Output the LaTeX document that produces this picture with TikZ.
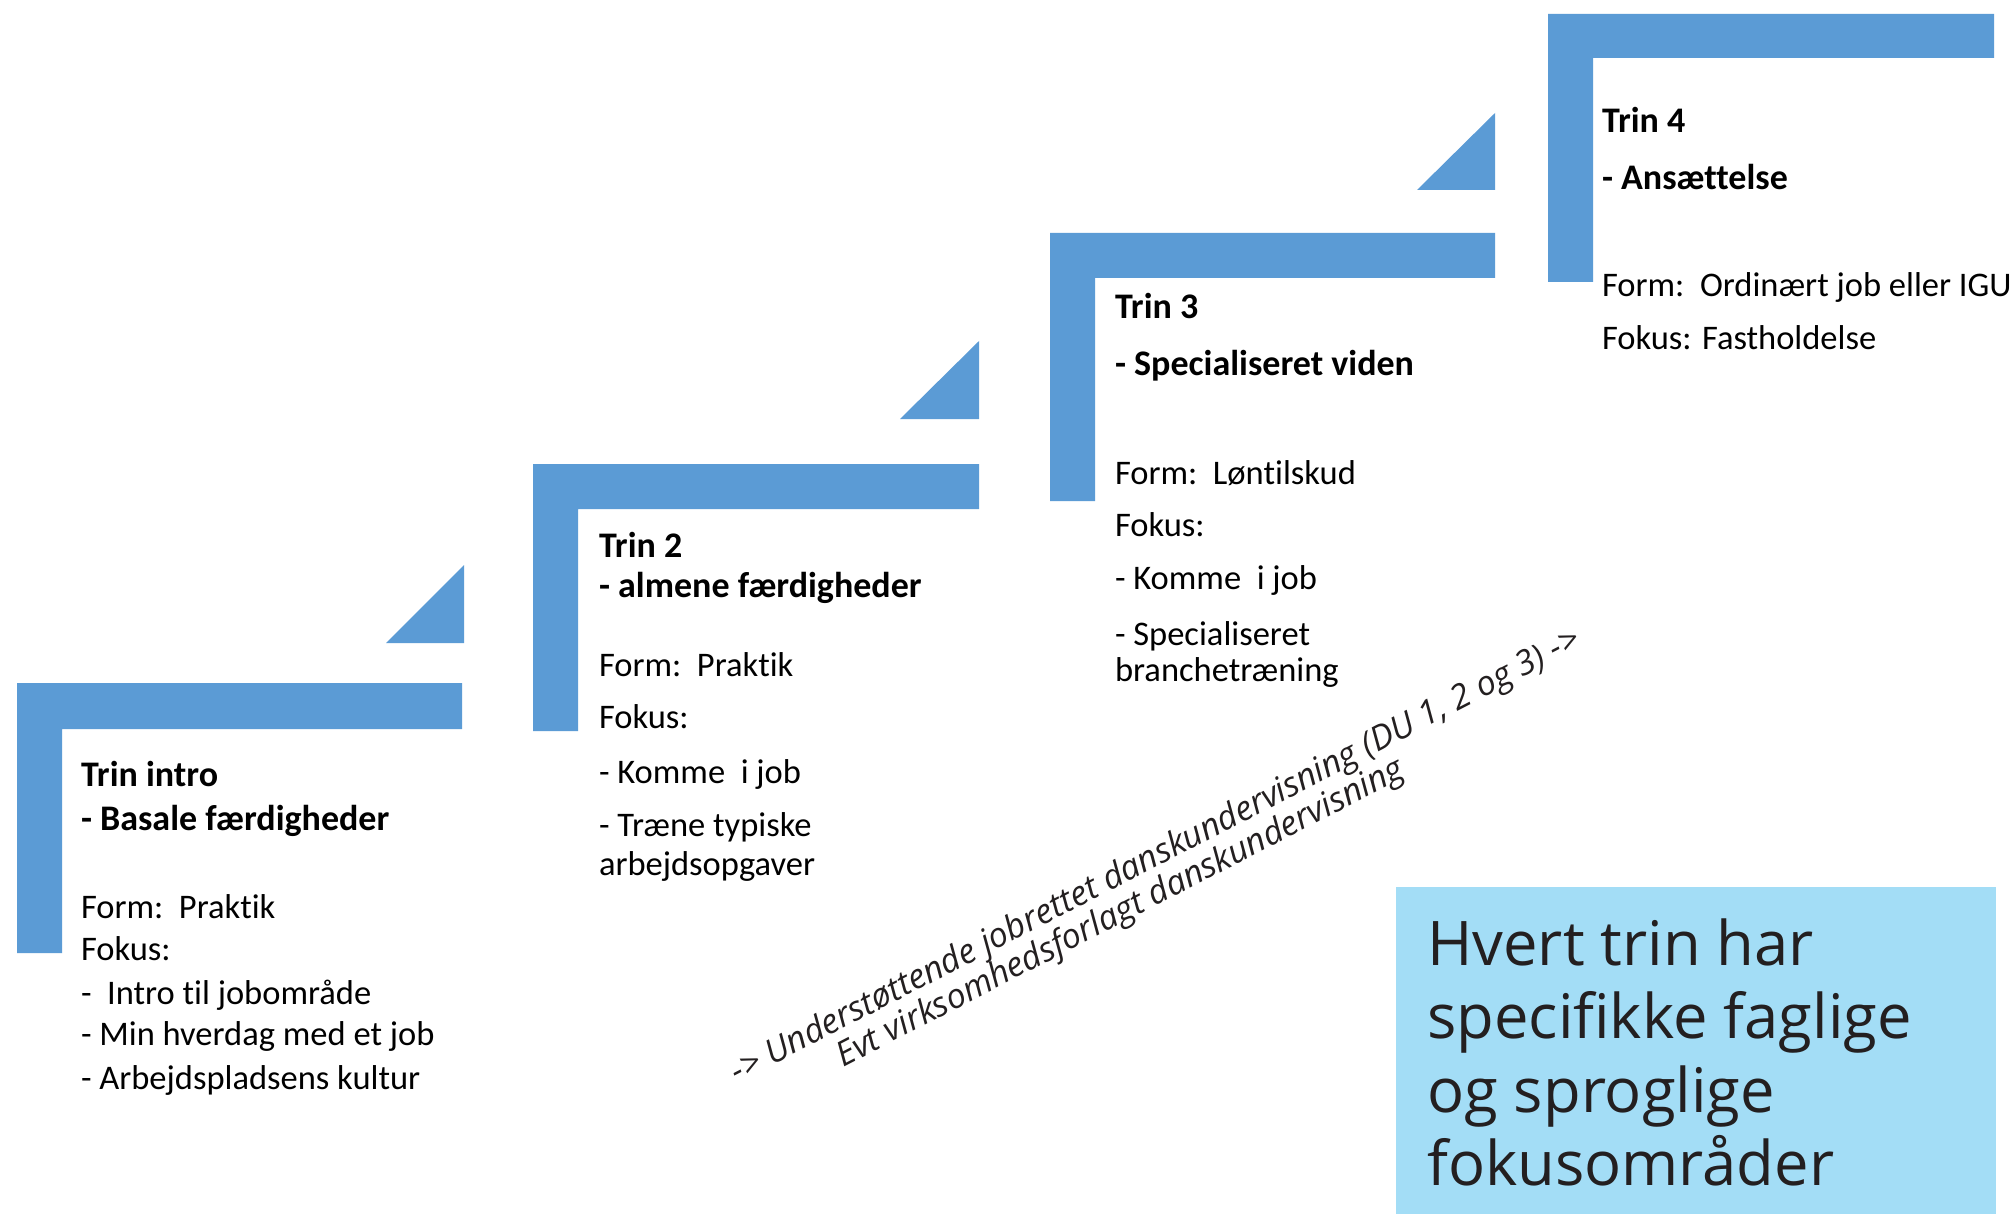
\documentclass[tikz,border=0pt]{standalone}
\usepackage{fontspec}
\setmainfont{Carlito}[Ligatures=NoCommon]
\newfontfamily\boxfont{Open Sans}[Ligatures=NoCommon]
\newfontfamily\diagfont{Open Sans}[Ligatures=NoCommon]
\begin{document}
\begin{tikzpicture}[x=1pt,y=-1pt,
  stepfill/.style={fill=stepblue,draw=none},
  txt/.style={anchor=base west,inner sep=0pt,outer sep=0pt,font=\fontsize{34.5}{40}\selectfont},
  btxt/.style={txt,font=\fontsize{36}{40}\selectfont\bfseries},
  bigtxt/.style={anchor=base west,inner sep=0pt,font=\boxfont\fontsize{61.5}{74}\selectfont,text=boxtext},
  diag/.style={anchor=base,inner sep=0pt,rotate=27.3,font=\diagfont\itshape\fontsize{34}{38}\selectfont,text=boxtext}]
\definecolor{stepblue}{HTML}{5B9BD5}
\definecolor{lightbox}{HTML}{A3DDF6}
\definecolor{boxtext}{HTML}{231F20}
\useasboundingbox (0,0) rectangle (2015,1214);
\fill[white] (0,0) rectangle (2015,1214);

% step shapes
\fill[stepfill] (17,683) -- (462,683) -- (462,729) -- (62,729) -- (62,953) -- (17,953) -- cycle;
\fill[stepfill] (386,643) -- (464,643) -- (464,565) -- cycle;
\fill[stepfill] (533,464) -- (979,464) -- (979,509) -- (578,509) -- (578,731) -- (533,731) -- cycle;
\fill[stepfill] (900,419) -- (979,419) -- (979,341) -- cycle;
\fill[stepfill] (1050,233) -- (1495,233) -- (1495,278) -- (1095,278) -- (1095,501) -- (1050,501) -- cycle;
\fill[stepfill] (1417,190) -- (1495,190) -- (1495,113) -- cycle;
\fill[stepfill] (1548,14) -- (1994,14) -- (1994,58) -- (1593,58) -- (1593,282) -- (1548,282) -- cycle;

% step 1
\node[btxt] (s1a) at (81,786) {Trin intro};
\node[btxt] (s1b) at (81,830) {- Basale færdigheder};
\node[txt] (s1c) at (81,918) {Form:\ \ Praktik};
\node[txt] (s1d) at (81,960) {Fokus:};
\node[txt] (s1e) at (81,1004) {-\ \ Intro til jobområde};
\node[txt] (s1f) at (81,1045) {- Min hverdag med et job};
\node[txt] (s1g) at (81,1089) {- Arbejdspladsens kultur};

% step 2
\node[btxt] (s2a) at (599,557) {Trin 2};
\node[btxt] (s2b) at (599,597) {- almene færdigheder};
\node[txt] (s2c) at (599,676) {Form:\ \ Praktik};
\node[txt] (s2d) at (599,728) {Fokus:};
\node[txt] (s2e) at (599,783) {- Komme\ \ i job};
\node[txt] (s2f) at (599,836) {- Træne typiske};
\node[txt] (s2g) at (599,875) {arbejdsopgaver};

% step 3
\node[btxt] (s3a) at (1115,319) {Trin 3};
\node[btxt] (s3b) at (1115,375) {- Specialiseret viden};
\node[txt] (s3c) at (1115,484) {Form:\ \ Løntilskud};
\node[txt] (s3d) at (1115,536) {Fokus:};
\node[txt] (s3e) at (1115,589) {- Komme\ \ i job};
\node[txt] (s3f) at (1115,645) {- Specialiseret};
\node[txt] (s3g) at (1115,681) {branchetræning};

% step 4
\node[btxt] (s4a) at (1602,133) {Trin 4};
\node[btxt] (s4b) at (1602,190) {- Ansættelse};
\node[txt] (s4c) at (1602,297) {Form:\ \ Ordinært job eller IGU};
\node[txt] (s4d) at (1602,350) {Fokus: Fastholdelse};

% diagonal text
\node[diag] (d1) at (1160,865) {-> Understøttende jobrettet danskundervisning (DU 1, 2 og 3) ->};
\node[diag] (d2) at (1125,922) {Evt virksomhedsforlagt danskundervisning};

% info box
\fill[lightbox] (1396,887) rectangle (1996,1214);
\node[bigtxt] (b1) at (1427,965) {Hvert trin har};
\node[bigtxt] (b2) at (1427,1038) {specifikke faglige};
\node[bigtxt] (b3) at (1427,1112) {og sproglige};
\node[bigtxt] (b4) at (1427,1185) {fokusområder};
\end{tikzpicture}
\end{document}
